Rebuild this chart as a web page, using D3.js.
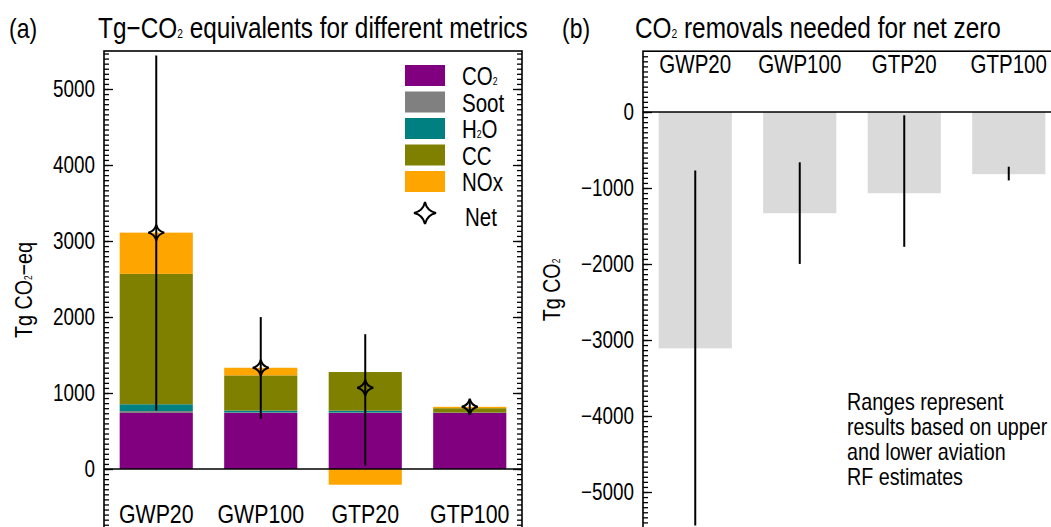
<!DOCTYPE html>
<html>
<head>
<meta charset="utf-8">
<script src="https://cdn.jsdelivr.net/npm/d3@7"></script>
<style>
body { margin: 0; background: #fff; }
svg text { font-family: "Liberation Sans Narrow", "Arial Narrow", "Liberation Sans", Arial, sans-serif; fill: #000; }
</style>
</head>
<body>
<svg id="chart" width="1051" height="527"></svg>
<script>
// data (Tg CO2-eq)
const metrics = ["GWP20", "GWP100", "GTP20", "GTP100"];
const co2  = [737, 737, 737, 737];
const soot = [25, 7, 6, 1];
const h2o  = [90, 25, 25, 4];
const cc   = [1715, 463, 508, 58];
const nox  = [543, 100, -207, 18];
const rangeLow  = [770, 662, 44, 720];
const rangeHigh = [5440, 1999, 1774, 900];
const ticksA = [0, 1000, 2000, 3000, 4000, 5000];
const ticksB = [0, -1000, -2000, -3000, -4000, -5000];

const keys = ["CO2", "Soot", "H2O", "CC", "NOx"];
const colors = { CO2: "#800080", Soot: "#808080", H2O: "#008080", CC: "#808000", NOx: "#ffa500" };
const legendLabels = [["CO", "_2"], ["Soot"], ["H", "_2", "O"], ["CC"], ["NOx"]];

const rows = metrics.map((m, i) => ({
    metric: m, CO2: co2[i], Soot: soot[i], H2O: h2o[i], CC: cc[i], NOx: nox[i]
}));
const net = rows.map(r => keys.reduce((s, k) => s + r[k], 0));

const svg = d3.select("#chart");
const fmt = d => d < 0 ? "\u2212" + Math.abs(d) : String(d);

// text with subscripts: pieces beginning with "_" are subscripts
function subText(g, x, y, pieces, size, anchor) {
    const t = g.append("text")
        .attr("x", x).attr("y", y)
        .attr("font-size", size)
        .attr("text-anchor", anchor || "start");
    pieces.forEach(p => {
        if (p[0] == "_") {
            t.append("tspan").attr("font-size", size * 0.42).text(p.slice(1));
        } else {
            t.append("tspan").text(p);
        }
    });
    return t;
}

function starPath(r) {
    const q = r * 0.18;
    return `M0,${-r}Q${q},${-q} ${r},0Q${q},${q} 0,${r}Q${-q},${q} ${-r},0Q${-q},${-q} 0,${-r}Z`;
}

function frameAxes(g, x0, x1, y, ticks, rightTicks) {
    const minor = d3.range(y.domain()[0], y.domain()[1], 1000 / 15);
    g.append("g").attr("transform", `translate(${x0},0)`)
        .call(d3.axisLeft(y).tickValues(minor).tickSize(-5).tickFormat(""))
        .call(a => a.select(".domain").remove());
    g.append("g").attr("transform", `translate(${x0},0)`)
        .call(d3.axisLeft(y).tickValues(ticks).tickSize(-9).tickPadding(9).tickFormat(fmt))
        .call(a => a.select(".domain").remove())
        .call(a => a.selectAll("text").attr("font-size", 23).attr("font-family", null));
    if (rightTicks) {
        g.append("g").attr("transform", `translate(${x1},0)`)
            .call(d3.axisRight(y).tickValues(minor).tickSize(-5).tickFormat(""))
            .call(a => a.select(".domain").remove());
        g.append("g").attr("transform", `translate(${x1},0)`)
            .call(d3.axisRight(y).tickValues(ticks).tickSize(-9).tickFormat(""))
            .call(a => a.select(".domain").remove());
    }
    g.selectAll(".tick line").attr("stroke", "#000").attr("stroke-width", 1.3);
    g.append("rect")
        .attr("x", x0).attr("y", y.range()[1])
        .attr("width", x1 - x0).attr("height", 700)
        .attr("fill", "none").attr("stroke", "#000").attr("stroke-width", 1.6);
    g.append("line")
        .attr("x1", x0).attr("x2", x1)
        .attr("y1", y(0)).attr("y2", y(0))
        .attr("stroke", "#000").attr("stroke-width", 1.6);
}

// ---------- panel (a) ----------
const xA = d3.scaleBand().domain(metrics).range([104, 522]).paddingInner(0.3).paddingOuter(0.15);
const yA = d3.scaleLinear().domain([-1000, 5500]).range([545, 51]);
const gA = svg.append("g");

const stack = d3.stack().keys(keys).offset(d3.stackOffsetDiverging);
const series = stack(rows);

gA.append("g").selectAll("g")
    .data(series)
    .join("g")
    .attr("fill", d => colors[d.key])
    .selectAll("rect")
    .data(d => d)
    .join("rect")
    .attr("x", d => xA(d.data.metric))
    .attr("width", xA.bandwidth())
    .attr("y", d => yA(Math.max(d[0], d[1])))
    .attr("height", d => Math.abs(yA(d[0]) - yA(d[1])));

frameAxes(gA, 104, 522, yA, ticksA, true);

gA.append("g").selectAll("line")
    .data(metrics)
    .join("line")
    .attr("x1", d => xA(d) + xA.bandwidth() / 2)
    .attr("x2", d => xA(d) + xA.bandwidth() / 2)
    .attr("y1", (d, i) => yA(rangeLow[i]))
    .attr("y2", (d, i) => yA(rangeHigh[i]))
    .attr("stroke", "#000").attr("stroke-width", 2);

gA.append("g").selectAll("path")
    .data(metrics)
    .join("path")
    .attr("d", starPath(8))
    .attr("transform", (d, i) => `translate(${xA(d) + xA.bandwidth() / 2},${yA(net[i])})`)
    .attr("fill", "none").attr("stroke", "#000").attr("stroke-width", 2);

gA.append("g").selectAll("text")
    .data(metrics)
    .join("text")
    .attr("x", d => xA(d) + xA.bandwidth() / 2)
    .attr("y", 523)
    .attr("text-anchor", "middle")
    .attr("font-size", 26)
    .text(d => d);

// legend
const leg = gA.append("g");
keys.forEach((k, i) => {
    leg.append("rect")
        .attr("x", 405).attr("y", 65 + i * 26.5)
        .attr("width", 40).attr("height", 21)
        .attr("fill", colors[k]);
    subText(leg, 462, 85 + i * 26.5, legendLabels[i], 25);
});
leg.append("path")
    .attr("d", starPath(11))
    .attr("transform", "translate(425,213)")
    .attr("fill", "none").attr("stroke", "#000").attr("stroke-width", 2);
leg.append("text").attr("x", 465).attr("y", 226).attr("font-size", 25).text("Net");

svg.append("text").attr("x", 9).attr("y", 38).attr("font-size", 28).text("(a)");
subText(svg, 98, 38, ["Tg\u2212CO", "_2", " equivalents for different metrics"], 29).attr("class", "title");
subText(svg, 0, 0, ["Tg CO", "_2", "\u2212eq"], 24, "middle")
    .attr("transform", "translate(32,290) rotate(-90)");

// ---------- panel (b) ----------
const xB = d3.scaleBand().domain(metrics).range([643, 1061]).paddingInner(0.3).paddingOuter(0.15);
const yB = d3.scaleLinear().domain([-5600, 800]).range([112 + 425.6, 51.2]);
const gB = svg.append("g");

gB.append("g").selectAll("rect")
    .data(metrics)
    .join("rect")
    .attr("x", d => xB(d))
    .attr("width", xB.bandwidth())
    .attr("y", yB(0))
    .attr("height", (d, i) => yB(-net[i]) - yB(0))
    .attr("fill", "#dadada");

frameAxes(gB, 643, 1061, yB, ticksB, false);

gB.append("g").selectAll("line")
    .data(metrics)
    .join("line")
    .attr("x1", d => xB(d) + xB.bandwidth() / 2)
    .attr("x2", d => xB(d) + xB.bandwidth() / 2)
    .attr("y1", (d, i) => yB(-rangeLow[i]))
    .attr("y2", (d, i) => yB(-rangeHigh[i]))
    .attr("stroke", "#000").attr("stroke-width", 2);

gB.append("g").selectAll("text")
    .data(metrics)
    .join("text")
    .attr("x", d => xB(d) + xB.bandwidth() / 2)
    .attr("y", 73)
    .attr("text-anchor", "middle")
    .attr("font-size", 25)
    .text(d => d);

const note = ["Ranges represent", "results based on upper", "and lower aviation", "RF estimates"];
gB.append("g").selectAll("text")
    .data(note)
    .join("text")
    .attr("x", 847)
    .attr("y", (d, i) => 410 + i * 25)
    .attr("font-size", 24)
    .text(d => d);

svg.append("text").attr("x", 562).attr("y", 38).attr("font-size", 28).text("(b)");
subText(svg, 635, 38, ["CO", "_2", " removals needed for net zero"], 29).attr("class", "title");
subText(svg, 0, 0, ["Tg CO", "_2"], 24, "middle")
    .attr("transform", "translate(560,290) rotate(-90)");

// the original uses a narrow Helvetica; squeeze the installed sans to match
svg.selectAll("text").each(function () {
    const len = this.getComputedTextLength();
    const k = this.getAttribute("class") == "title" ? 0.84 : 0.82;
    if (len > 0) {
        d3.select(this).attr("textLength", len * k).attr("lengthAdjust", "spacingAndGlyphs");
    }
});
</script>
</body>
</html>
